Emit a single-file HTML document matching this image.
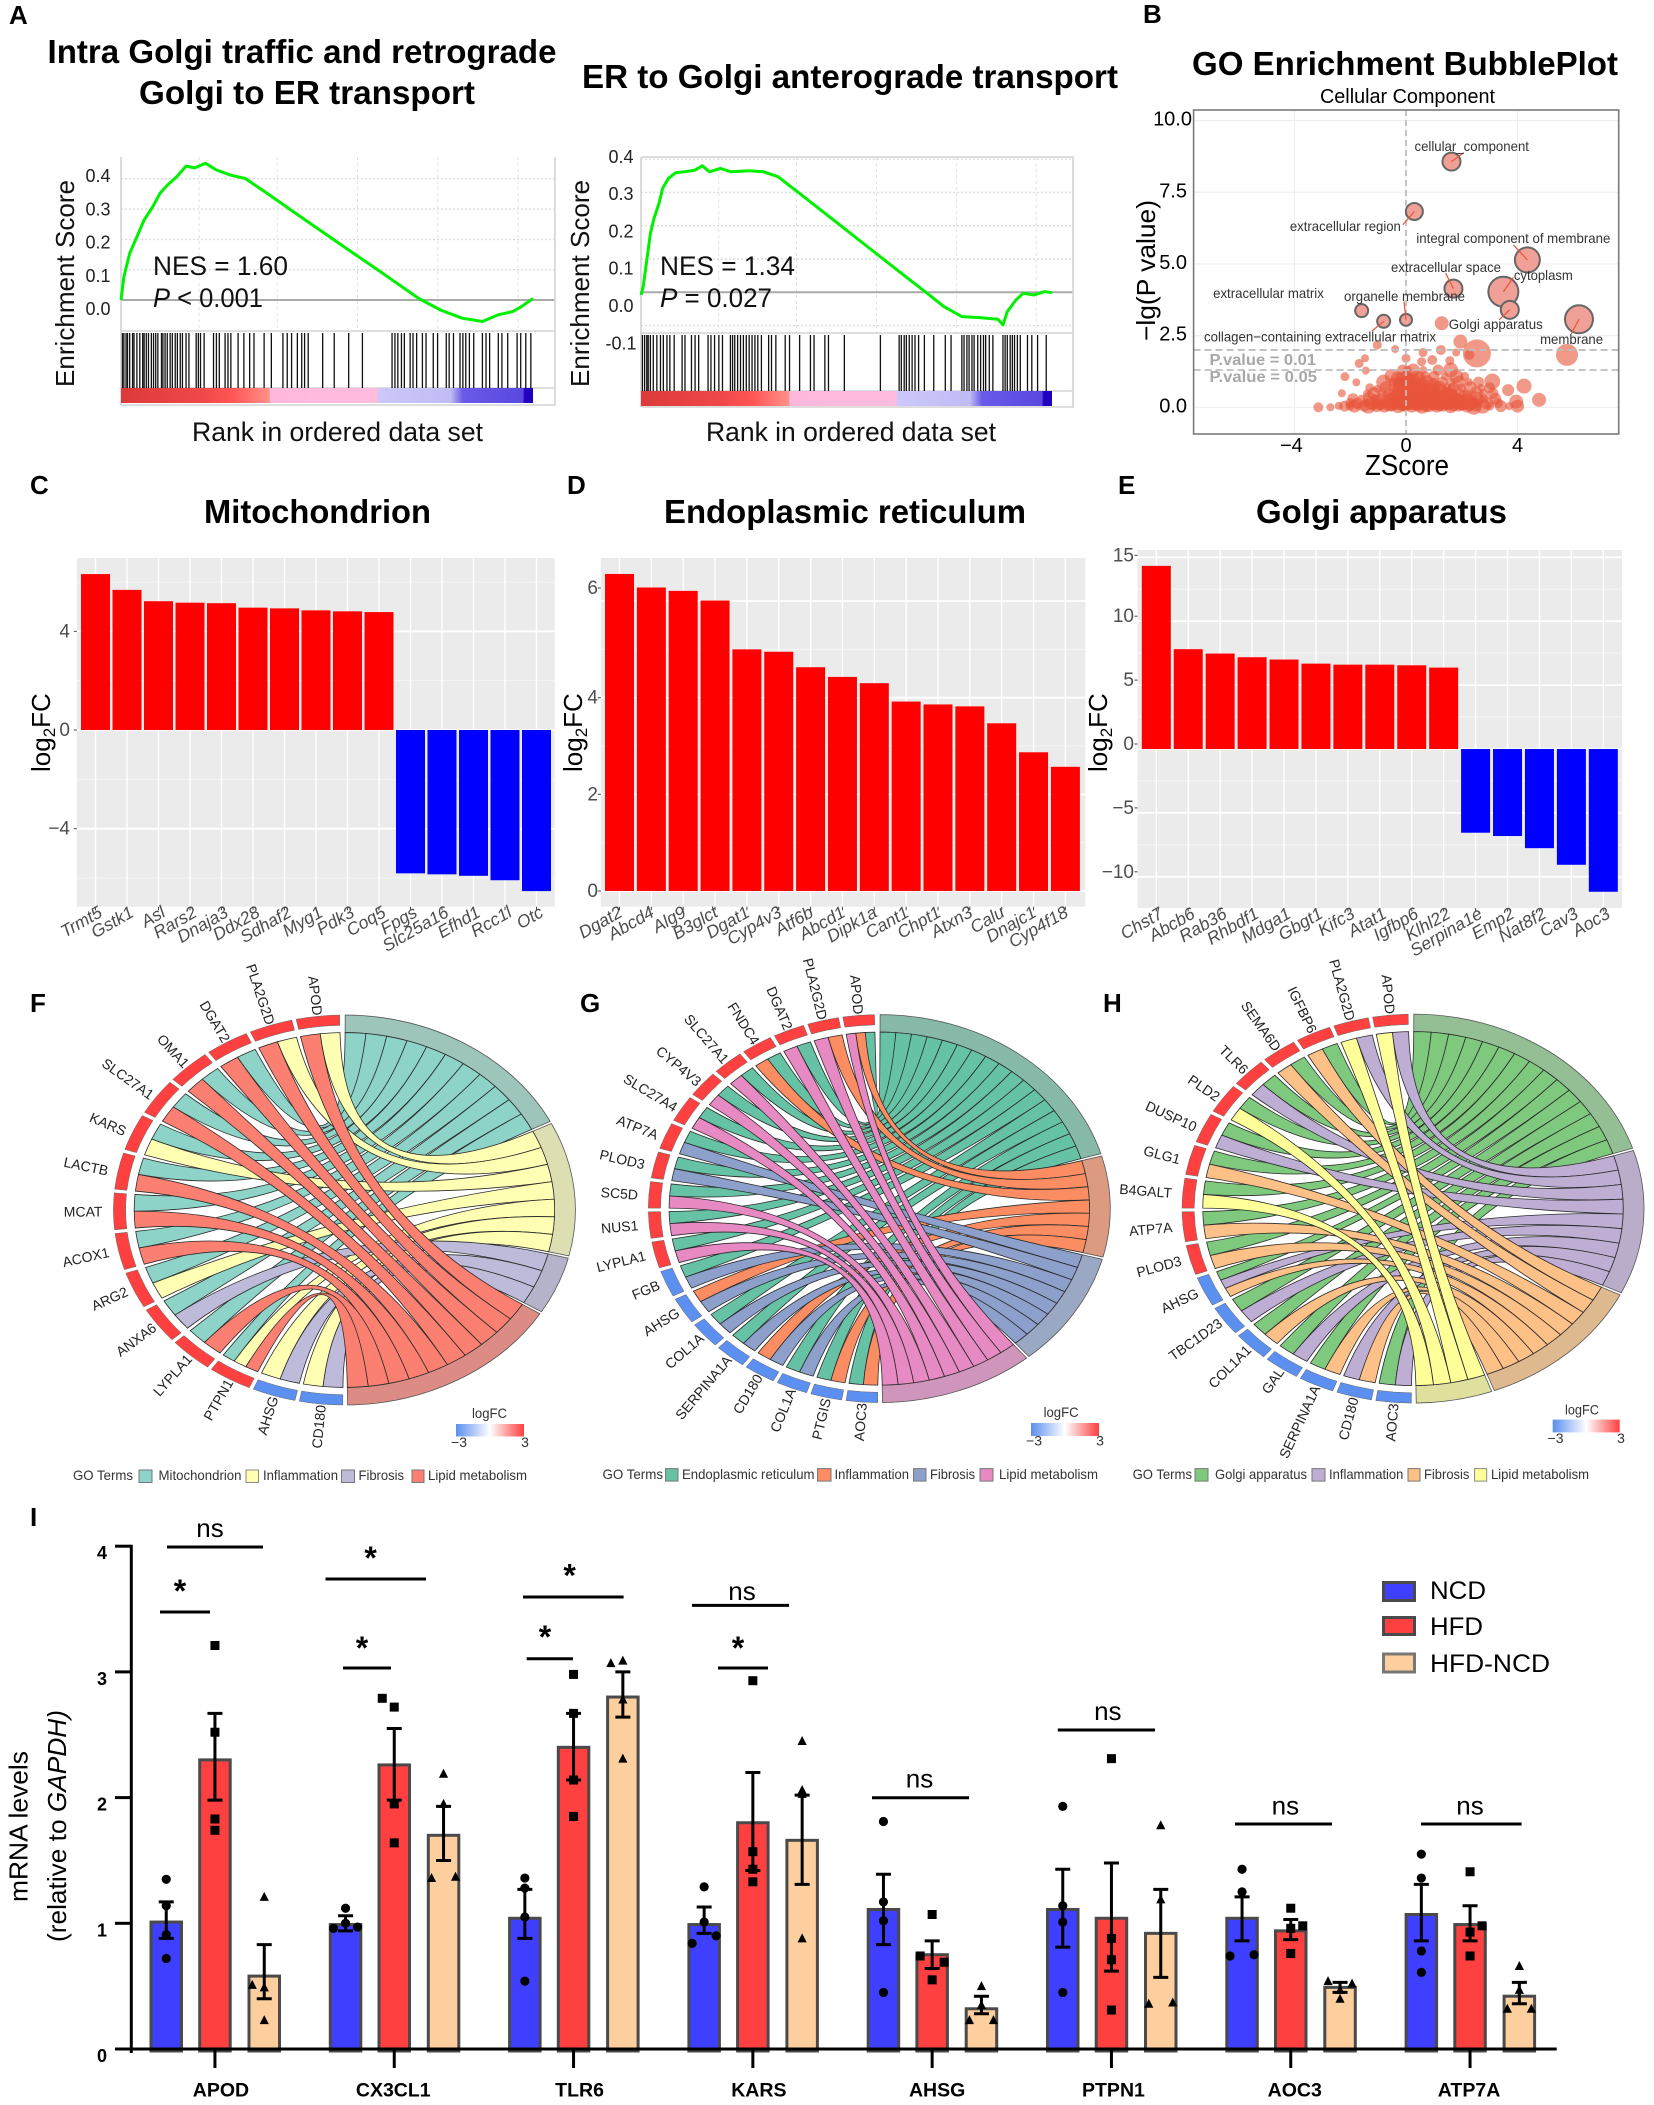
<!DOCTYPE html>
<html lang="en">
<head>
<meta charset="utf-8">
<title>Multi-panel figure</title>
<style>
html,body{margin:0;padding:0;background:#fff}
svg{display:block;font-family:"Liberation Sans",sans-serif}
</style>
</head>
<body>
<svg id="fig" xmlns="http://www.w3.org/2000/svg" width="1654" height="2105" viewBox="0 0 1654 2105">
<defs>
<linearGradient id="heatA" x1="0" x2="1" y1="0" y2="0">
<stop offset="0" stop-color="#dc3a3a"/><stop offset=".2" stop-color="#f04848"/><stop offset=".27" stop-color="#ff5555"/><stop offset=".36" stop-color="#ff9088"/><stop offset=".362" stop-color="#ffb8dc"/><stop offset=".62" stop-color="#ffbcdc"/><stop offset=".625" stop-color="#ccc8fa"/><stop offset=".8" stop-color="#c0bcf4"/><stop offset=".83" stop-color="#6a5ae8"/><stop offset=".975" stop-color="#5a48e0"/><stop offset=".98" stop-color="#2200c0"/><stop offset="1" stop-color="#2200c0"/>
</linearGradient>
<linearGradient id="fcBar" x1="0" x2="1" y1="0" y2="0">
<stop offset="0" stop-color="#5b8ff0"/><stop offset=".5" stop-color="#ffffff"/><stop offset="1" stop-color="#ff3f3f"/>
</linearGradient>
</defs>

<!-- panel letters -->
<g font-weight="700" font-size="26" fill="#000">
<text x="9" y="24">A</text>
<text x="1143" y="23">B</text>
<text x="30" y="494">C</text>
<text x="567" y="494">D</text>
<text x="1118" y="494">E</text>
<text x="30" y="1012">F</text>
<text x="580" y="1012">G</text>
<text x="1103" y="1012">H</text>
<text x="30" y="1526">I</text>
</g>

<!-- panel titles -->
<g font-weight="700" font-size="33" fill="#000">
<text x="47.5" y="63" textLength="509" lengthAdjust="spacingAndGlyphs">Intra Golgi traffic and retrograde</text>
<text x="139" y="104" textLength="336" lengthAdjust="spacingAndGlyphs">Golgi to ER transport</text>
<text x="582" y="88" textLength="536" lengthAdjust="spacingAndGlyphs">ER to Golgi anterograde transport</text>
<text x="1192" y="75" textLength="426" lengthAdjust="spacingAndGlyphs">GO Enrichment BubblePlot</text>
<text x="204" y="523" textLength="227" lengthAdjust="spacingAndGlyphs">Mitochondrion</text>
<text x="664" y="523" textLength="362" lengthAdjust="spacingAndGlyphs">Endoplasmic reticulum</text>
<text x="1256" y="523" textLength="251" lengthAdjust="spacingAndGlyphs">Golgi apparatus</text>
</g>
<text x="1320" y="103" font-size="20" textLength="175" lengthAdjust="spacingAndGlyphs">Cellular Component</text>

<g id="gseaLeft"></g>
<g id="gseaRight"></g>
<g fill="#111">
<text transform="translate(74,387) rotate(-90)" font-size="26" textLength="207" lengthAdjust="spacingAndGlyphs">Enrichment Score</text>
<text transform="translate(589,387) rotate(-90)" font-size="26" textLength="207" lengthAdjust="spacingAndGlyphs">Enrichment Score</text>
<text x="192" y="441" font-size="27" textLength="291" lengthAdjust="spacingAndGlyphs">Rank in ordered data set</text>
<text x="706" y="441" font-size="27" textLength="290" lengthAdjust="spacingAndGlyphs">Rank in ordered data set</text>
<text x="153" y="275" font-size="27" textLength="135" lengthAdjust="spacingAndGlyphs">NES = 1.60</text>
<text x="153" y="307" font-size="27" textLength="110" lengthAdjust="spacingAndGlyphs"><tspan font-style="italic">P</tspan> &lt; 0.001</text>
<text x="660" y="275" font-size="27" textLength="135" lengthAdjust="spacingAndGlyphs">NES = 1.34</text>
<text x="660" y="307" font-size="27" textLength="112" lengthAdjust="spacingAndGlyphs"><tspan font-style="italic">P</tspan> = 0.027</text>
</g>

<g id="bubble"></g>
<text transform="translate(1155,341) rotate(-90)" font-size="26" textLength="141" lengthAdjust="spacingAndGlyphs">−lg(P value)</text>
<text x="1365" y="475" font-size="29" textLength="84" lengthAdjust="spacingAndGlyphs">ZScore</text>

<g id="barsC"></g>
<g id="barsD"></g>
<g id="barsE"></g>
<text transform="translate(50,772) rotate(-90)" font-size="26">log<tspan font-size="17" dy="5">2</tspan><tspan dy="-5">FC</tspan></text>
<text transform="translate(582,772) rotate(-90)" font-size="26">log<tspan font-size="17" dy="5">2</tspan><tspan dy="-5">FC</tspan></text>
<text transform="translate(1107,772) rotate(-90)" font-size="26">log<tspan font-size="17" dy="5">2</tspan><tspan dy="-5">FC</tspan></text>

<g id="chordF"></g>
<g id="chordG"></g>
<g id="chordH"></g>

<!-- chord legends -->
<g font-size="14" fill="#333">
<text x="472" y="1418" textLength="35" lengthAdjust="spacingAndGlyphs">logFC</text>
<rect x="456" y="1424" width="68" height="12.5" fill="url(#fcBar)"/>
<text x="459" y="1447" text-anchor="middle">−3</text>
<text x="525" y="1447" text-anchor="middle">3</text>
<text x="73" y="1480" textLength="60" lengthAdjust="spacingAndGlyphs">GO Terms</text>
<rect x="139" y="1470" width="13" height="12.5" fill="#8dd3c7" stroke="#777"/>
<text x="158.5" y="1480" textLength="83" lengthAdjust="spacingAndGlyphs">Mitochondrion</text>
<rect x="246" y="1470" width="12.5" height="12.5" fill="#ffffb3" stroke="#888"/>
<text x="263" y="1480" textLength="75" lengthAdjust="spacingAndGlyphs">Inflammation</text>
<rect x="341.5" y="1470" width="13" height="12.5" fill="#bebada" stroke="#777"/>
<text x="358.5" y="1480" textLength="45.5" lengthAdjust="spacingAndGlyphs">Fibrosis</text>
<rect x="412" y="1470" width="12" height="12.5" fill="#fb8072" stroke="#777"/>
<text x="428" y="1480" textLength="99" lengthAdjust="spacingAndGlyphs">Lipid metabolism</text>
</g>
<g font-size="14" fill="#333">
<text x="1043.6" y="1417" textLength="35" lengthAdjust="spacingAndGlyphs">logFC</text>
<rect x="1031" y="1423" width="68" height="13" fill="url(#fcBar)"/>
<text x="1034" y="1445.5" text-anchor="middle">−3</text>
<text x="1100" y="1445.5" text-anchor="middle">3</text>
<text x="602.5" y="1479" textLength="60.5" lengthAdjust="spacingAndGlyphs">GO Terms</text>
<rect x="665.5" y="1468.6" width="12.5" height="12.5" fill="#66c2a5" stroke="#777"/>
<text x="682" y="1479" textLength="132.5" lengthAdjust="spacingAndGlyphs">Endoplasmic reticulum</text>
<rect x="817.5" y="1468.6" width="13.5" height="12.5" fill="#fc8d62" stroke="#777"/>
<text x="834.5" y="1479" textLength="74.5" lengthAdjust="spacingAndGlyphs">Inflammation</text>
<rect x="913.5" y="1468.6" width="12.5" height="12.5" fill="#8da0cb" stroke="#777"/>
<text x="930" y="1479" textLength="45" lengthAdjust="spacingAndGlyphs">Fibrosis</text>
<rect x="980" y="1468.6" width="13" height="12.5" fill="#e78ac3" stroke="#777"/>
<text x="999" y="1479" textLength="99" lengthAdjust="spacingAndGlyphs">Lipid metabolism</text>
</g>
<g font-size="14" fill="#333">
<text x="1565" y="1414.5" textLength="34" lengthAdjust="spacingAndGlyphs">logFC</text>
<rect x="1552.7" y="1419.6" width="67" height="12.8" fill="url(#fcBar)"/>
<text x="1555.5" y="1442.8" text-anchor="middle">−3</text>
<text x="1621" y="1442.8" text-anchor="middle">3</text>
<text x="1132.6" y="1479" textLength="59.4" lengthAdjust="spacingAndGlyphs">GO Terms</text>
<rect x="1195" y="1468.6" width="13" height="12.5" fill="#7fc97f" stroke="#777"/>
<text x="1215" y="1479" textLength="92" lengthAdjust="spacingAndGlyphs">Golgi apparatus</text>
<rect x="1312" y="1468.6" width="13" height="12.5" fill="#beaed4" stroke="#777"/>
<text x="1329" y="1479" textLength="74.4" lengthAdjust="spacingAndGlyphs">Inflammation</text>
<rect x="1408" y="1468.6" width="12" height="12.5" fill="#fdc086" stroke="#777"/>
<text x="1424" y="1479" textLength="45.4" lengthAdjust="spacingAndGlyphs">Fibrosis</text>
<rect x="1474.6" y="1468.6" width="12.1" height="12.5" fill="#ffff99" stroke="#888"/>
<text x="1491" y="1479" textLength="98" lengthAdjust="spacingAndGlyphs">Lipid metabolism</text>
</g>

<g id="qpcr"></g>

<!-- panel I annotations -->
<g stroke="#000" stroke-width="3">
<line x1="167" x2="263" y1="1547" y2="1547"/>
<line x1="160" x2="210" y1="1612" y2="1612"/>
<line x1="325.5" x2="426" y1="1579" y2="1579"/>
<line x1="343" x2="391" y1="1668" y2="1668"/>
<line x1="523" x2="623.6" y1="1597" y2="1597"/>
<line x1="526.7" x2="573" y1="1658.7" y2="1658.7"/>
<line x1="692" x2="789" y1="1605.4" y2="1605.4"/>
<line x1="718" x2="768" y1="1668" y2="1668"/>
<line x1="872" x2="969" y1="1797.7" y2="1797.7"/>
<line x1="1057.8" x2="1155" y1="1730" y2="1730"/>
<line x1="1235" x2="1332" y1="1824" y2="1824"/>
<line x1="1421" x2="1521.6" y1="1824" y2="1824"/>
</g>
<g font-size="26" text-anchor="middle" fill="#000">
<text x="210" y="1537">ns</text>
<text x="742" y="1600">ns</text>
<text x="919.5" y="1787.6">ns</text>
<text x="1107.8" y="1720">ns</text>
<text x="1285.4" y="1814.7">ns</text>
<text x="1470" y="1814.7">ns</text>
</g>
<g font-size="32" font-weight="700" text-anchor="middle" fill="#000">
<text x="180" y="1602">*</text>
<text x="370.6" y="1569">*</text>
<text x="362" y="1659">*</text>
<text x="569.6" y="1586.5">*</text>
<text x="545" y="1648">*</text>
<text x="738" y="1659">*</text>
</g>
<g>
<rect x="1383.5" y="1582.5" width="31" height="18" fill="#3f3fff" stroke="#4a4a4a" stroke-width="3"/>
<rect x="1383.5" y="1617.5" width="31" height="17" fill="#ff4040" stroke="#4a4a4a" stroke-width="3"/>
<rect x="1383.5" y="1654" width="31" height="18" fill="#fdcf9f" stroke="#777" stroke-width="3"/>
</g>
<g font-size="25" fill="#000">
<text x="1430" y="1599" textLength="56" lengthAdjust="spacingAndGlyphs">NCD</text>
<text x="1430" y="1635" textLength="53" lengthAdjust="spacingAndGlyphs">HFD</text>
<text x="1430" y="1672" textLength="120" lengthAdjust="spacingAndGlyphs">HFD-NCD</text>
</g>
<text transform="translate(27.5,1902) rotate(-90)" font-size="26" textLength="151" lengthAdjust="spacingAndGlyphs">mRNA levels</text>
<text transform="translate(66,1942) rotate(-90)" font-size="26" textLength="232" lengthAdjust="spacingAndGlyphs">(relative to <tspan font-style="italic">GAPDH)</tspan></text>
</svg>

<script>
/* ---------- Panel A data ---------- */
const gseaLeftRank=[0,4,12,22,32,44,54,64,77,90,102,117,132,152,172,202,252,312,362,412,442,472,500,522,542,554,570];
const gseaLeftES=[0,.077,.154,.209,.264,.308,.352,.379,.407,.442,.436,.451,.429,.412,.401,.352,.269,.17,.088,.005,-.033,-.06,-.071,-.049,-.038,-.022,.005];
const gseaLeftHits=[2,4,7,9,12,16,18,22,26,30,32,35,38,42,45,48,51,56,58,61,64,68,71,75,78,82,85,90,94,104,107,110,115,128,132,136,144,148,152,162,170,178,184,198,208,224,230,236,244,250,254,259,279,295,315,334,375,379,383,388,392,400,404,409,417,422,432,438,450,454,460,469,473,477,482,488,500,505,510,522,527,535,548,553,560,567];
const gseaLeftTicks=[0,.1,.2,.3,.4];
const gseaRightRank=[0,3,8,13,18,25,30,38,48,60,75,85,95,110,125,150,170,190,220,270,320,370,400,420,445,470,495,502,508,520,530,545,560,570];
const gseaRightES=[-.008,.017,.097,.177,.222,.267,.312,.342,.359,.362,.367,.380,.362,.372,.362,.365,.362,.347,.297,.212,.127,.042,-.008,-.043,-.073,-.076,-.081,-.098,-.058,-.023,-.003,-.008,.002,-.001];
const gseaRightHits=[2,5,8,10,13,17,22,27,31,36,40,46,57,61,70,75,80,93,97,102,108,113,124,127,130,134,138,142,146,150,154,158,162,167,177,181,187,200,206,220,235,240,255,260,282,332,358,361,365,368,372,376,380,385,393,406,422,430,445,448,452,455,459,462,467,471,475,478,483,488,502,505,508,512,515,518,522,526,536,542,550,562];
const gseaRightTicks=[-.1,0,.1,.2,.3,.4];

/* ---------- Panel B data ---------- */
const labeledNames=["cellular_component","extracellular region","integral component of membrane","extracellular space","cytoplasm","Golgi apparatus","membrane","extracellular matrix","collagen−containing extracellular matrix","organelle membrane"];
const labeledZ=[1.63,.30,4.35,1.70,3.49,3.72,6.20,-1.59,-.80,0];
const labeledLgP=[8.57,6.83,5.14,4.14,4.03,3.40,3.07,3.37,3.0,3.05];
const labeledSize=[9,8.5,12.5,9,15,9,14,6.5,6.5,6];
const sparseZ=[1.28,1.95,2.54,5.77,2.27,-1.03,-.39,.61,1.25,1.8,-1.47,-1.68,0,.56,.94,1.57,-1.44,-2.19,-1.78,-1.03,-2.3,3.66,4.23,4.77,3.95,3.09,2.43,-3.14,-2.71,-2.41];
const sparseLgP=[2.93,2.29,1.88,1.83,1.83,2.17,2.03,1.91,2.0,1.91,1.71,1.53,1.71,1.59,1.65,1.63,1.28,1.07,.87,.64,.49,.6,.74,.26,.2,.9,.02,0,0,.05];
const sparseSize=[7,7,14,11,5,4.5,4,4.5,5,4,4,4.5,4.5,4.5,5,4.5,4,4.5,4,4,4,6,7.5,7,7,8,8,5,4,4];
const cloudLevel0=[-2.2,-2.0,-1.85,-1.7,-1.5,-1.35,-1.2,-1.05,-.9,-.78,-.65,-.52,-.4,-.28,-.15,-.05,.08,.2,.33,.45,.58,.7,.82,.95,1.1,1.22,1.35,1.48,1.6,1.75,1.9,2.05,2.2,2.35,2.5,2.75,3.0,3.4,3.7,4.0];
const cloudLevel1=[-2.0,-1.75,-1.45,-1.25,-1.0,-.82,-.6,-.45,-.3,-.18,-.02,.14,.27,.4,.52,.66,.78,.9,1.05,1.18,1.32,1.44,1.58,1.72,1.86,2.02,2.18,2.4,2.6,2.9,3.3];
const cloudLevel2=[-1.9,-1.6,-1.3,-1.1,-.9,-.7,-.5,-.35,-.2,-.05,.1,.25,.4,.55,.7,.85,1.0,1.15,1.3,1.45,1.6,1.8,2.0,2.2,2.5,2.8,3.2];
const cloudLevel3=[-1.4,-1.15,-.85,-.62,-.44,-.26,-.12,.04,.18,.36,.5,.64,.82,.96,1.12,1.28,1.52,1.68,1.92,2.18,2.52,2.78,3.12];
const cloudLevel4=[-1.3,-.72,-.5,-.31,-.14,0,.16,.3,.46,.62,.8,1.02,1.2,1.46,1.7,2.0,2.3,2.7,3.0];
const cloudLevel5=[-.8,-.45,-.25,-.1,.05,.2,.35,.55,.75,1.0,1.3,1.6,1.9,2.25,2.6];
const cloudLevel6=[-.5,-.2,0,.15,.4,.7,1.0,1.4,1.8,2.1];
const cloudLevel7=[-.12,.05,.26,.62,1.15,1.6];
const cloudLevel8=[-1.1,-.95,-.7,-.55,-.42,-.33,-.22,-.1,.02,.13,.24,.36,.48,.6,.72,.84,.98,1.08,1.2,1.34,1.46,1.55,1.68,1.8,1.94,2.12,2.3];
const cloudLevel9=[-.62,-.38,-.16,-.04,.08,.19,.31,.43,.59,.74,.88,1.03,1.16,1.27,1.41,1.53,1.66,1.83,2.07,2.34];
const cloudLevel10=[-.55,-.32,-.08,.12,.28,.44,.6,.76,.92,1.08,1.24,1.38,1.56,1.74,2.05];
const cloudLevel11=[-.35,-.05,.1,.27,.42,.58,.72,.9,1.05,1.22,1.42,1.62];
const cloudLevel12=[-.2,.08,.24,.4,.56,.72,.92,1.12];
const cloudLevel13=[-.3,.02,.12,.3,.48];
const cloudLevels=[.04,.15,.3,.48,.68,.88,1.08,1.3,.1,.22,.38,.58,.78,1.0];
const cloudSizes=[5.5,4.5,6.5,4,5.5,7.5,4.5,6,4,6.5,5,5.5,4,7,4.5];
const bubbleXTicks=[-4,0,4];
const bubbleYTicks=[0,2.5,5,7.5,10];

/* ---------- Panels C, D, E data ---------- */
const mitoGenes=["Trmt5","Gstk1","Asl","Rars2","Dnaja3","Ddx28","Sdhaf2","Myg1","Pdk3","Coq5","Fpgs","Slc25a16","Efhd1","Rcc1l","Otc"];
const mitoLogFC=[6.32,5.68,5.22,5.16,5.14,4.96,4.93,4.85,4.81,4.78,-5.81,-5.85,-5.91,-6.09,-6.53];
const mitoTicks=[-4,0,4];
const mitoMinor=[-6,-2,2,6];
const erGenes=["Dgat2","Abcd4","Alg9","B3glct","Dgat1","Cyp4v3","Atf6b","Abcd1","Dipk1a","Cant1","Chpt1","Atxn3","Calu","Dnajc1","Cyp4f18"];
const erLogFC=[6.56,6.28,6.21,6.01,5.0,4.95,4.63,4.43,4.30,3.92,3.86,3.82,3.47,2.87,2.57];
const erTicks=[0,2,4,6];
const erMinor=[1,3,5];
const golgiGenes=["Chst7","Abcb6","Rab36","Rhbdf1","Mdga1","Gbgt1","Kifc3","Atat1","Igfbp6","Klhl22","Serpina1e","Emp2","Nat8f2","Cav3","Aoc3"];
const golgiLogFC=[14.33,7.81,7.47,7.18,7.0,6.68,6.6,6.6,6.55,6.37,-6.55,-6.81,-7.76,-9.06,-11.17];
const golgiTicks=[-10,-5,0,5,10,15];
const golgiMinor=[-7.5,-2.5,2.5,7.5,12.5];

/* ---------- Panels F, G, H data ---------- */
const chordFGenes=["APOD","PLA2G2D","DGAT2","OMA1","SLC27A1","KARS","LACTB","MCAT","ACOX1","ARG2","ANXA6","LYPLA1","PTPN1","AHSG","CD180"];
const chordFLogFC=[3,3,3,3,3,3,3,3,3,3,3,3,3,-3,-3];
const chordFLinks=[[1,3],[1,3],[0,3],[0,3],[0,3],[0,1],[0,3],[0,3],[0,3],[0,1],[0,2],[0,3],[0,1,3],[1,2],[1,2]];
const chordFColors=["#8dd3c7","#ffffb3","#bebada","#fb8072"];
const chordFRing=["#9dc5bc","#dedeb3","#b5b3c9","#dd8c85"];
const chordGGenes=["APOD","PLA2G2D","DGAT2","FNDC4","SLC27A1","CYP4V3","SLC27A4","ATP7A","PLOD3","SC5D","NUS1","LYPLA1","FGB","AHSG","COL1A","SERPINA1A","CD180","COL1A","PTGIS","AOC3"];
const chordGLogFC=[3,3,3,3,3,3,3,3,3,3,3,3,-3,-3,-3,-3,-3,-3,-3,-3];
const chordGLinks=[[0,1,3],[1,3],[0,3],[0,1],[0,3],[0,3],[0,3],[0,2],[0,2],[0,3],[0,3],[0,3],[0,2],[1,2],[0,2],[0,2],[1,2],[0,2],[0,1],[0,1]];
const chordGColors=["#66c2a5","#fc8d62","#8da0cb","#e78ac3"];
const chordGRing=["#87b9a8","#dc9b80","#9aa8c4","#cf95bb"];
const chordHGenes=["APOD","PLA2G2D","IGFBP6","SEMA6D","TLR6","PLD2","DUSP10","GLG1","B4GALT","ATP7A","PLOD3","AHSG","TBC1D23","COL1A1","GAL","SERPINA1A","CD180","AOC3"];
const chordHLogFC=[3,3,3,3,3,3,3,3,3,3,3,-3,-3,-3,-3,-3,-3,-3];
const chordHLinks=[[1,3],[1,3],[0,2],[0,2],[0,1],[0,3],[0,1],[0,2],[0,3],[0,2],[0,2],[0,1,2],[0,1],[0,2],[0,1],[0,2],[1,2],[0,1]];
const chordHColors=["#7fc97f","#beaed4","#fdc086","#ffff99"];
const chordHRing=["#94bf94","#b9adc9","#deb88e","#dfdf9e"];

/* ---------- Panel I data ---------- */
const qpcrGenes=["APOD","CX3CL1","TLR6","KARS","AHSG","PTPN1","AOC3","ATP7A"];
const qpcrTicks=[0,1,2,3,4];
const ncdMean=[1.01,.99,1.04,.99,1.11,1.11,1.04,1.07];
const hfdMean=[2.30,2.26,2.40,1.80,.75,1.04,.94,.99];
const hfdNcdMean=[.58,1.70,2.80,1.66,.32,.92,.49,.42];
const ncdHigh=[1.17,1.06,1.27,1.13,1.39,1.43,1.21,1.31];
const ncdLow=[.88,.94,.88,.92,.83,.81,.86,.86];
const hfdHigh=[2.67,2.55,2.67,2.20,.86,1.48,1.03,1.14];
const hfdLow=[1.98,1.98,2.14,1.42,.64,.62,.87,.86];
const hfdNcdHigh=[.83,1.93,3.0,2.02,.42,1.27,.53,.53];
const hfdNcdLow=[.40,1.50,2.64,1.31,.28,.57,.45,.36];
const ncdPoints=[[1.35,1.14,.91,.72],[1.12,1.0,.96,.97],[1.36,1.28,1.05,.54],[1.29,1.01,.90,.84],[1.81,1.17,1.02,.45],[1.93,1.14,1.01,.45],[1.43,1.25,.74,.75],[1.55,1.36,.78,.61]];
const ncdSides=[[0,0,0,0],[0,0,-1,1],[0,0,0,0],[0,0,1,-1],[0,0,0,0],[0,0,0,0],[0,0,-1,1],[0,0,0,0]];
const hfdPoints=[[3.21,2.52,1.83,1.74],[2.79,2.72,1.95,1.64],[2.98,2.67,2.14,1.85],[2.93,1.57,1.43,1.33],[1.07,.74,.69,.55],[2.31,.88,.71,.31],[1.12,.96,.98,.76],[1.41,.98,.93,.74]];
const hfdSides=[[0,0,0,0],[-1,0,0,0],[0,0,0,0],[0,0,0,0],[0,-1,1,0],[0,0,0,0],[0,0,1,0],[0,1,0,0]];
const hfdNcdPoints=[[1.21,.51,.49,.23],[2.19,1.95,1.36,1.37],[3.07,3.09,2.78,2.31],[2.45,2.06,2.03,.88],[.50,.35,.23,.23],[1.78,1.19,.36,.37],[.54,.52,.47,.40],[.66,.47,.32,.32]];
const hfdNcdSides=[[0,-1,0,0],[0,0,-1,1],[-1,0,0,0],[0,0,0,0],[0,0,-1,1],[0,0,-1,1],[-1,1,0,0],[0,0,-1,1]];

/* ---------- helpers ---------- */
const SVGNS='http://www.w3.org/2000/svg';
function mk(tag,attrs,parent,txt){
  const n=document.createElementNS(SVGNS,tag);
  for(const k in attrs) n.setAttribute(k,attrs[k]);
  if(txt!==undefined) n.textContent=txt;
  parent.appendChild(n);
  return n;
}
const fmtMinus=v=>String(v).replace('-','−');

/* ---------- Panel A ---------- */
function drawGsea(g,rank,es,hits,ticks,L){
  const sx=r=>L.x0+r/L.rankMax*(L.x1-L.x0);
  const sy=v=>L.y0-v*L.k;
  const sl=v=>L.labelY0-v*L.labelK;
  const bg=mk('rect',{x:L.left,y:L.top,width:L.right-L.left,height:L.bottom-L.top,fill:'#fff'},g);
  
  
  for(const f of [.18,.36,.545,.73,.915]){
    const vg=mk('line',{x1:L.left+f*(L.right-L.left),x2:L.left+f*(L.right-L.left),y1:L.top,y2:L.sep,stroke:'#e2e2e2','stroke-dasharray':'3 3'},g);
    
    
  }
  ticks.forEach(t=>{
    const gl=mk('line',{x1:L.left,x2:L.right,y1:sy(t),y2:sy(t),stroke:t===0?'#aaaaaa':'#dcdcdc','stroke-width':t===0?2:1.4,'stroke-dasharray':t===0?'none':'2 2'},g);
    
    
    const lb=mk('text',{x:L.labelX,y:sl(t)+6,'text-anchor':'middle','font-size':18,fill:'#222'},g,t.toFixed(1));
    
    
  });
  const topEdge=L.noTop?`M${L.right} ${L.top}`:`M${L.left} ${L.top}H${L.right}`;
  const frame=mk('path',{d:`M${L.left} ${L.top}V${L.bottom}${topEdge}V${L.bottom}H${L.left}M${L.left} ${L.sep}H${L.right}M${L.left} ${L.hitBottom}H${L.right}`,fill:'none',stroke:'#d4d4d4','stroke-width':1.6},g);
  
  
  hits.forEach(h=>{
    const hl=mk('line',{x1:sx(h),x2:sx(h),y1:L.sep+2,y2:L.hitBottom,stroke:'#111','stroke-width':1.3},g);
    
    
  });
  const heat=mk('rect',{x:L.x0,y:L.hitBottom,width:L.x1-L.x0,height:L.heatH,fill:'url(#heatA)'},g);
  
  
  const d=rank.map((r,i)=>(i?'L':'M')+sx(r).toFixed(1)+' '+sy(es[i]).toFixed(1)).join('');
  const curve=mk('path',{d:d,fill:'none',stroke:'#00f000','stroke-width':3,'stroke-linejoin':'round'},g);
  
  
}
drawGsea(document.getElementById('gseaLeft'),gseaLeftRank,gseaLeftES,gseaLeftHits,gseaLeftTicks,
 {left:121,right:555,top:157,bottom:405,sep:331,hitBottom:388,heatH:15,x0:121,x1:533,rankMax:570,y0:300,k:303,labelX:98,labelY0:309,labelK:332.5,noTop:true});
drawGsea(document.getElementById('gseaRight'),gseaRightRank,gseaRightES,gseaRightHits,gseaRightTicks,
 {left:641,right:1073,top:157,bottom:407,sep:333,hitBottom:391,heatH:15,x0:641,x1:1052,rankMax:570,y0:292.3,k:333,labelX:621,labelY0:306,labelK:373});

/* ---------- Panel B ---------- */
(function(){
  const g=document.getElementById('bubble');
  const box={l:1193.6,r:1618.7,t:110,b:434};
  const sx=z=>1406+27.9*z;
  const sy=p=>407.3-28.67*p;
  const bg=mk('rect',{x:box.l,y:box.t,width:box.r-box.l,height:box.b-box.t,fill:'#fff'},g);
  
  
  bubbleYTicks.forEach(t=>{
    const gl=mk('line',{x1:box.l,x2:box.r,y1:sy(t),y2:sy(t),stroke:'#efefef','stroke-width':1.2},g);
    
    
    const lb=mk('text',{x:t===10?1192:1187,y:sy(t)+5,'text-anchor':'end','font-size':20},g,t.toFixed(1));
    
    
  });
  bubbleXTicks.forEach(t=>{
    const gl=mk('line',{x1:sx(t),x2:sx(t),y1:box.t,y2:box.b,stroke:'#efefef','stroke-width':1.2},g);
    
    
    const lb=mk('text',{x:sx(t)-(t<0?3:0),y:452,'text-anchor':'middle','font-size':20},g,fmtMinus(t));
    
    
  });
  const addBubble=(z,p,r,name)=>{
    const c=mk('circle',{cx:sx(z),cy:sy(p),r:r,fill:'#e8553a','fill-opacity':.6},g);
    
    
  };
  const levels=[cloudLevel0,cloudLevel1,cloudLevel2,cloudLevel3,cloudLevel4,cloudLevel5,cloudLevel6,cloudLevel7,cloudLevel8,cloudLevel9,cloudLevel10,cloudLevel11,cloudLevel12,cloudLevel13];
  let n=0;
  levels.forEach((arr,li)=>arr.forEach(z=>{
    addBubble(z,cloudLevels[li],cloudSizes[n%cloudSizes.length],'go-term-bubble');
    n++;
  }));
  sparseZ.forEach((z,i)=>addBubble(z,sparseLgP[i],sparseSize[i],'go-term-bubble'));
  const vz=mk('line',{x1:sx(0),x2:sx(0),y1:box.t,y2:box.b,stroke:'#bdbdbd','stroke-width':1.8,'stroke-dasharray':'6 4'},g);
  
  
  [2,1.3].forEach(p=>{
    const dl=mk('line',{x1:box.l,x2:box.r,y1:sy(p),y2:sy(p),stroke:'#bdbdbd','stroke-width':1.8,'stroke-dasharray':'7 4'},g);
    
    
  });
  const p1=mk('text',{x:1209.5,y:365,'font-size':15.5,'font-weight':700,fill:'#a8a8a8',textLength:106.5,lengthAdjust:'spacingAndGlyphs'},g,'P.value = 0.01');
  
  
  const p2=mk('text',{x:1209.5,y:382,'font-size':15.5,'font-weight':700,fill:'#a8a8a8',textLength:107.5,lengthAdjust:'spacingAndGlyphs'},g,'P.value = 0.05');
  
  
  /* label layout relative to each bubble: text dx, dy, width, leader dx, dy */
  const layout=[[-37,-10.7,114.5,12.4,-9],[-124.5,19.3,111,-11.5,13.3],[-111,-17,194,-14,-15],[-62.4,-16.7,110,-7.8,-15.4],[10.5,-11.7,59,10,-14.4],[-61,19,94,-10.7,10],[-38.9,24.7,63,-7.8,14.7],[-148.5,-12.7,110.7,0,0],[-179.7,20,232,-11.7,9.7],[-62,-19,121,-2,-18.3]];
  labeledNames.forEach((nm,i)=>{
    const cx=sx(labeledZ[i]),cy=sy(labeledLgP[i]),L=layout[i];
    const c=mk('circle',{cx:cx,cy:cy,r:labeledSize[i],fill:'#f0a096',stroke:'#666','stroke-width':2},g);
    
    
    if(L[3]||L[4]){
      const ld=mk('line',{x1:cx,y1:cy,x2:cx+L[3],y2:cy+L[4],stroke:'#e8553a','stroke-width':1.2},g);
      
      
    }
    const t=mk('text',{x:cx+L[0],y:cy+L[1],'font-size':14,fill:'#333',textLength:L[2],lengthAdjust:'spacingAndGlyphs'},g,nm);
    
    
  });
  const fr=mk('rect',{x:box.l,y:box.t,width:box.r-box.l,height:box.b-box.t,fill:'none',stroke:'#7a7a7a','stroke-width':1.6},g);
  
  
})();

/* ---------- Panels C, D, E ---------- */
function drawBars(g,genes,vals,ticks,minor,L){
  const sy=v=>L.y0-v*L.k;
  const sx=i=>L.x0+L.step*i;
  const bg=mk('rect',{x:L.l,y:L.t,width:L.r-L.l,height:L.b-L.t,fill:'#ebebeb'},g);
  
  
  minor.forEach(t=>{
    const m=mk('line',{x1:L.l,x2:L.r,y1:sy(t),y2:sy(t),stroke:'#f6f6f6','stroke-width':1},g);
    
    
  });
  ticks.forEach(t=>{
    const m=mk('line',{x1:L.l,x2:L.r,y1:sy(t),y2:sy(t),stroke:'#fff','stroke-width':1.8},g);
    
    
    const ly=sy(t)+(L.labelShift?L.labelShift(t):0);
    const lb=mk('text',{x:L.labelX,y:ly+6,'text-anchor':'end','font-size':19,fill:'#4d4d4d'},g,fmtMinus(t));
    
    
    const tk=mk('line',{x1:L.l-3,x2:L.l,y1:ly,y2:ly,stroke:'#444','stroke-width':1},g);
    
    
  });
  genes.forEach((nm,i)=>{
    const cx=sx(i);
    const vl=mk('line',{x1:cx,x2:cx,y1:L.t,y2:L.b,stroke:'#fff','stroke-width':1.4},g);
    
    
    const tk=mk('line',{x1:cx,x2:cx,y1:L.b,y2:L.b+3.5,stroke:'#444','stroke-width':1},g);
    
    
    const lb=mk('text',{transform:`translate(${cx+L.labelDx},${L.b+9}) rotate(-30)`,'text-anchor':'end','font-size':17.5,'font-style':'italic',fill:'#4d4d4d'},g,nm);
    
    
  });
  vals.forEach((v,i)=>{
    const y1=sy(Math.max(v,0)),y2=sy(Math.min(v,0));
    const b=mk('rect',{x:sx(i)-L.w/2,y:y1,width:L.w,height:y2-y1,fill:v>=0?'#ff0000':'#0000ff'},g);
    
    
  });
}
drawBars(document.getElementById('barsC'),mitoGenes,mitoLogFC,mitoTicks,mitoMinor,
 {l:76.8,r:554.8,t:558,b:906.7,y0:730,k:24.67,x0:95.5,step:31.5,w:29,labelX:70,labelDx:8});
drawBars(document.getElementById('barsD'),erGenes,erLogFC,erTicks,erMinor,
 {l:600.8,r:1085.4,t:558,b:906.7,y0:891,k:48.33,x0:619.5,step:31.85,w:29,labelX:598,labelDx:4,labelShift:t=>t===6?-13:0});
drawBars(document.getElementById('barsE'),golgiGenes,golgiLogFC,golgiTicks,golgiMinor,
 {l:1137.5,r:1622,t:550,b:908,y0:749,k:12.78,x0:1156.3,step:31.93,w:29,labelX:1134,labelDx:8,labelShift:t=>t===15?-2:-5});

/* ---------- Panels F, G, H ---------- */
function drawChord(g,genes,logFC,links,colors,ring,L){
  const rad=d=>d*Math.PI/180;
  const pt=(a,r)=>[L.cx+L.rx*r*Math.sin(rad(a)),L.cy-L.ry*r*Math.cos(rad(a))];
  const f=p=>p[0].toFixed(2)+' '+p[1].toFixed(2);
  const arc=(a,r,sweep)=>`A${(L.rx*r).toFixed(2)} ${(L.ry*r).toFixed(2)} 0 0 ${sweep} ${f(pt(a,r))}`;
  const ringPath=(a1,a2,r1,r2)=>`M${f(pt(a1,r2))}${arc(a2,r2,1)}L${f(pt(a2,r1))}${arc(a1,r1,0)}Z`;
  const R=.91;
  const counts=colors.map(()=>0);
  links.forEach(l=>l.forEach(t=>counts[t]++));
  const total=counts.reduce((a,b)=>a+b,0);
  const gap=.7,perLink=(179-gap*3)/total;
  const termStart=[];
  let a=.2;
  counts.forEach((c,t)=>{
    termStart[t]=a;
    const seg=mk('path',{d:ringPath(a,a+c*perLink,R,1),fill:ring[t],stroke:'#555','stroke-width':.8},g);
    
    
    a+=c*perLink+gap;
  });
  /* gene ring */
  const n=genes.length,geneGap=1.1,span=(358.8-180.4+geneGap)/n;
  const ribbons=[];
  const used=colors.map(()=>0);
  genes.forEach((nm,i)=>{
    const hi=358.8-i*span,lo=hi-span+geneGap;
    const seg=mk('path',{d:ringPath(lo,hi,.947,1),fill:logFC[i]>0?'#ff4040':'#5b8ff0',stroke:'#666','stroke-width':.5},g);
    
    
    const mid=(lo+hi)/2;
    const s=Math.sin(rad(mid)),c=Math.cos(rad(mid));
    const lx=L.cx+(L.rx+11*Math.pow(s,4))*s,ly=L.cy-(L.ry+1)*c;
    const rot=Math.atan2(c,-s)*180/Math.PI;
    const t=mk('text',{transform:`translate(${lx.toFixed(1)},${ly.toFixed(1)}) rotate(${rot.toFixed(1)})`,'text-anchor':'end','font-size':14,fill:'#222',dy:5},g,nm);
    
    
    const w=(hi-lo)/links[i].length;
    links[i].forEach((term,j)=>{
      const gHi=hi-j*w,gLo=gHi-w;
      const t1=termStart[term]+used[term]*perLink;
      used[term]++;
      ribbons.push({term:term,t1:t1,t2:t1+perLink,gLo:gLo,gHi:gHi});
    });
  });
  /* ribbons, term by term */
  ribbons.sort((p,q)=>p.term-q.term);
  ribbons.forEach(r=>{
    const c=`${L.cx} ${L.cy}`;
    const d=`M${f(pt(r.t1,R))}${arc(r.t2,R,1)}Q${c} ${f(pt(r.gLo,R))}${arc(r.gHi,R,1)}Q${c} ${f(pt(r.t1,R))}Z`;
    const p=mk('path',{d:d,fill:colors[r.term],stroke:'#2b2b2b','stroke-width':.8},g);
    
    
  });
}
drawChord(document.getElementById('chordF'),chordFGenes,chordFLogFC,chordFLinks,chordFColors,chordFRing,{cx:344.4,cy:1210,rx:231,ry:195});
drawChord(document.getElementById('chordG'),chordGGenes,chordGLogFC,chordGLinks,chordGColors,chordGRing,{cx:879.3,cy:1208.6,rx:231,ry:194});
drawChord(document.getElementById('chordH'),chordHGenes,chordHLogFC,chordHLinks,chordHColors,chordHRing,{cx:1413,cy:1208.6,rx:231,ry:194.5});

/* ---------- Panel I ---------- */
(function(){
  const g=document.getElementById('qpcr');
  const sy=v=>2049-v*125.7;
  const sx=i=>151+179.3*i;
  const barW=30.5;
  const series=[
   {name:'ncd',off:0,fill:'#3f3fff',mean:ncdMean,hi:ncdHigh,lo:ncdLow,pts:ncdPoints,sides:ncdSides,shape:'circle'},
   {name:'hfd',off:48.7,fill:'#ff4040',mean:hfdMean,hi:hfdHigh,lo:hfdLow,pts:hfdPoints,sides:hfdSides,shape:'square'},
   {name:'hfd-ncd',off:98,fill:'#fdcf9f',mean:hfdNcdMean,hi:hfdNcdHigh,lo:hfdNcdLow,pts:hfdNcdPoints,sides:hfdNcdSides,shape:'triangle'}
  ];
  series.forEach(s=>{
    qpcrGenes.forEach((gene,i)=>{
      const x=sx(i)+s.off;
      const b=mk('rect',{x:x,y:sy(s.mean[i]),width:barW,height:sy(0)-sy(s.mean[i])+2,fill:s.fill,stroke:'#4a4a4a','stroke-width':3},g);
      
      
      const cx=x+barW/2;
      s.pts[i].forEach((v,j)=>{
        const px=cx+s.sides[i][j]*12,py=sy(v);
        let m;
        if(s.shape==='circle') m=mk('ellipse',{cx:px,cy:py,rx:4.6,ry:4.6,fill:'#000'},g);
        else if(s.shape==='square') m=mk('rect',{x:px-4.5,y:py-4.5,width:9,height:9,fill:'#000'},g);
        else m=mk('path',{d:`M${px} ${py-5}L${px+4.6} ${py+4}H${px-4.6}Z`,fill:'#000'},g);
        
        
      });
      const e=mk('path',{d:`M${cx} ${sy(s.hi[i])}V${sy(s.lo[i])}M${cx-7.5} ${sy(s.hi[i])}h15M${cx-7.5} ${sy(s.lo[i])}h15`,fill:'none',stroke:'#000','stroke-width':3},g);
      
      
    });
  });
  const ya=mk('line',{x1:131.3,x2:131.3,y1:sy(4)-1.5,y2:sy(0)+4,stroke:'#000','stroke-width':3},g);
  
  
  const xa=mk('line',{x1:115,x2:1556.7,y1:sy(0),y2:sy(0),stroke:'#000','stroke-width':3},g);
  
  
  qpcrTicks.forEach(t=>{
    const tk=mk('line',{x1:115,x2:131,y1:sy(t),y2:sy(t),stroke:'#000','stroke-width':3},g);
    
    
    const lb=mk('text',{x:102,y:sy(t)+13,'text-anchor':'middle','font-size':18,'font-weight':700},g,String(t));
    
    
  });
  qpcrGenes.forEach((gene,i)=>{
    const cx=sx(i)+48.7+barW/2;
    const tk=mk('line',{x1:cx,x2:cx,y1:sy(0),y2:2068,stroke:'#000','stroke-width':3},g);
    
    
    const lb=mk('text',{x:cx+(i<1?6:i===1?-1:i===2?6:i===3?6:i===4?5:i===5?2:i===6?4:-1),y:2096.5,'text-anchor':'middle','font-size':19.5,'font-weight':700},g,gene);
    
    
  });
})();
</script>
</body>
</html>
